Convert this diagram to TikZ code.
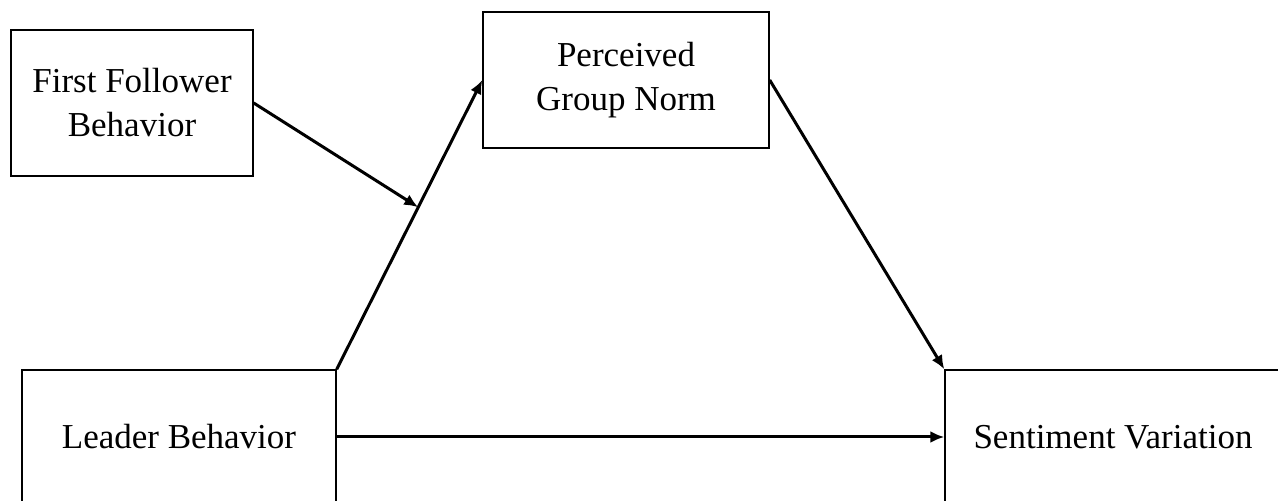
\documentclass[tikz,border=0pt]{standalone}
\usepackage{fontspec}
\setmainfont{Liberation Serif}
\usepackage{tikz}
\usetikzlibrary{arrows.meta,positioning}

\begin{document}
\begin{tikzpicture}[
    x=1pt, y=1pt,
    box/.style={rectangle, draw, line width=0.7pt, align=center, inner sep=0pt, font=\fontsize{17.5}{22}\selectfont},
    arrow/.style={-{Latex[length=7pt,width=6pt]}, line width=1.5pt}
]
\useasboundingbox (0,0) rectangle (639,250.5);
\clip (0,0) rectangle (639,250.5);
\node[box, minimum width=121pt, minimum height=73pt] (follower) at (66,199) {First Follower\\Behavior};
\node[box, minimum width=143pt, minimum height=68pt] (norm) at (313,210.5) {Perceived\\Group Norm};
\node[box, minimum width=157pt, minimum height=67pt] (leader) at (89.5,32) {Leader Behavior};
\node[box, minimum width=168pt, minimum height=67pt] (sentiment) at (556.5,32) {Sentiment Variation};

\draw[arrow] (leader.north east) -- (norm.west) coordinate[pos=0.56] (moderate);
\draw[arrow] (follower.east) -- (moderate);
\draw[arrow] (norm.east) -- (sentiment.north west);
\draw[arrow] (leader.east) -- (sentiment.west);
\end{tikzpicture}
\end{document}
